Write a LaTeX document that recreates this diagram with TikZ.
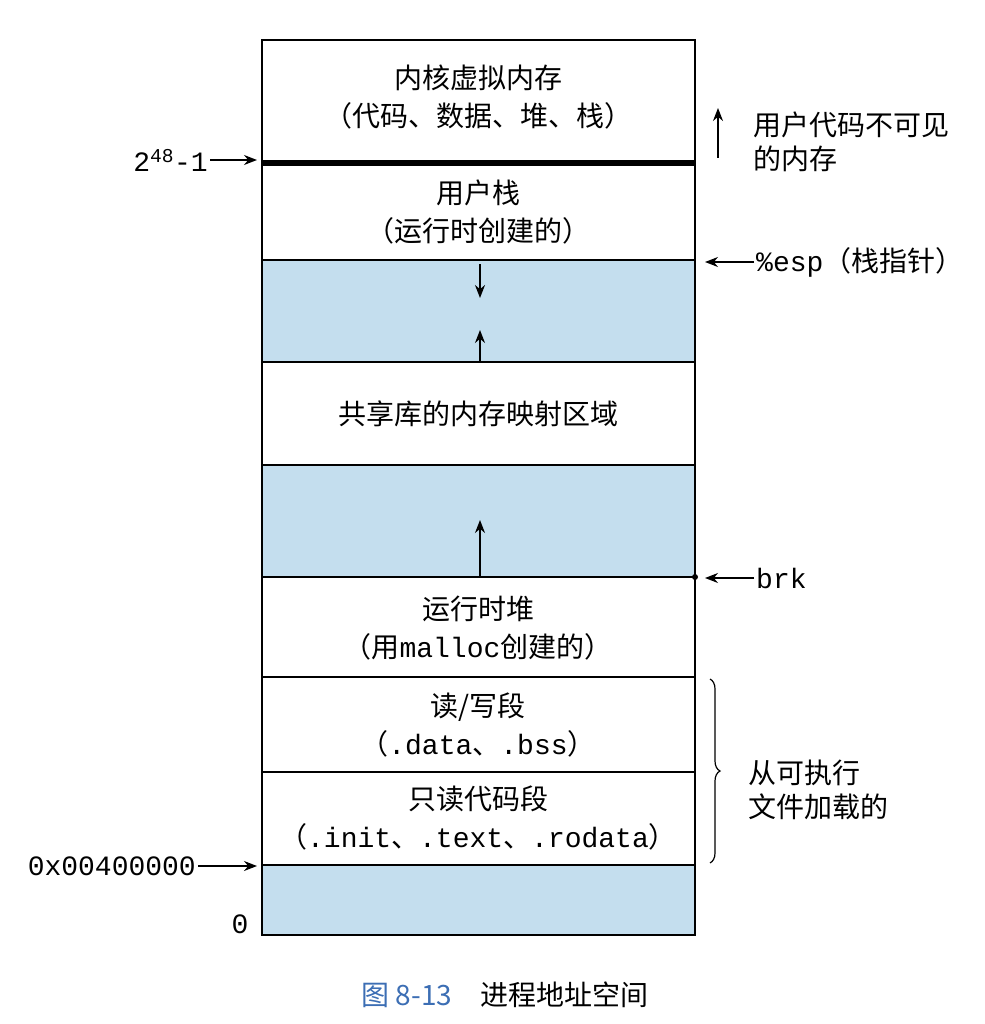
\documentclass[tikz,border=0pt]{standalone}
\usepackage{fontspec}
\setmainfont{Liberation Serif}
\setmonofont{Liberation Mono}
\newfontfamily\cjk{Noto Sans CJK SC}
\usetikzlibrary{decorations.pathreplacing,arrows.meta}
\definecolor{memblue}{RGB}{196,222,238}
\definecolor{capblue}{RGB}{60,110,180}
\begin{document}
\begin{tikzpicture}[x=1pt,y=-1pt,
  seg/.style={draw,line width=1.5pt},
  free/.style={draw,line width=1.5pt,fill=memblue},
  lbl/.style={font=\cjk\fontsize{28}{38}\selectfont,align=center},
  side/.style={font=\cjk\fontsize{28}{34}\selectfont,anchor=west,align=left},
  mono/.style={font=\fontsize{28}{32}\selectfont\ttfamily},
  ptr/.style={-{Stealth[length=13pt,width=10pt]},line width=1.5pt}]
\useasboundingbox (0,0) rectangle (984,1024);
\path[seg] (262,40) rectangle (695,163);
\path[seg] (262,163) rectangle (695,260);
\path[free] (262,260) rectangle (695,362);
\path[seg] (262,362) rectangle (695,465);
\path[free] (262,465) rectangle (695,577);
\path[seg] (262,577) rectangle (695,677);
\path[seg] (262,677) rectangle (695,772);
\path[seg] (262,772) rectangle (695,865);
\path[free] (262,865) rectangle (695,935);
\draw[line width=6pt] (262,163) -- (695,163);
\node[lbl] (k) at (478,97) {内核虚拟内存\\（代码、数据、堆、栈）};
\node[lbl] (us) at (478,212) {用户栈\\（运行时创建的）};
\node[lbl] (sl) at (478,414) {共享库的内存映射区域};
\node[lbl] (hp) at (478,628) {运行时堆\\（用\texttt{malloc}创建的）};
\node[lbl] (rw) at (478,725) {读/写段\\（\texttt{.data}、\texttt{.bss}）};
\node[lbl] (ro) at (478,818) {只读代码段\\（\texttt{.init}、\texttt{.text}、\texttt{.rodata}）};
\coordinate (a1) at (480,264); \coordinate (a2) at (480,298);
\draw[ptr] (a1) -- (a2);
\coordinate (b1) at (480,362); \coordinate (b2) at (480,330);
\draw[ptr] (b1) -- (b2);
\coordinate (c1) at (480,577); \coordinate (c2) at (480,520);
\draw[ptr] (c1) -- (c2);
\node[mono,anchor=east,inner sep=2pt] (t48) at (210,160) {2\textsuperscript{48}-1};
\coordinate (t48e) at (257,160);
\draw[ptr] (t48) -- (t48e);
\coordinate (u1) at (718,158); \coordinate (u2) at (718,108);
\draw[ptr] (u1) -- (u2);
\node[side] (inv) at (750,142) {用户代码不可见\\的内存};
\node[side,inner sep=2pt] (esp) at (754,262) {\texttt{\%esp}（栈指针）};
\coordinate (espe) at (705,262);
\draw[ptr] (esp) -- (espe);
\node[mono,anchor=west,inner sep=2pt] (brk) at (754,578) {brk};
\coordinate (brke) at (705,578);
\draw[ptr] (brk) -- (brke);
\fill (695,577) circle (3pt);
\draw[decorate,decoration={brace,amplitude=10pt},line width=1.2pt] (710,679) -- (710,863);
\node[side] (ld) at (745,790) {从可执行\\文件加载的};
\node[mono,anchor=east,inner sep=2pt] (hx) at (198,866) {0x00400000};
\coordinate (hxe) at (257,866);
\draw[ptr] (hx) -- (hxe);
\node[mono] (z) at (240,924) {0};
\node[font=\cjk\fontsize{28}{32}\selectfont] (cap) at (505,995) {\textcolor{capblue}{图 8-13}\quad 进程地址空间};
\end{tikzpicture}
\end{document}
